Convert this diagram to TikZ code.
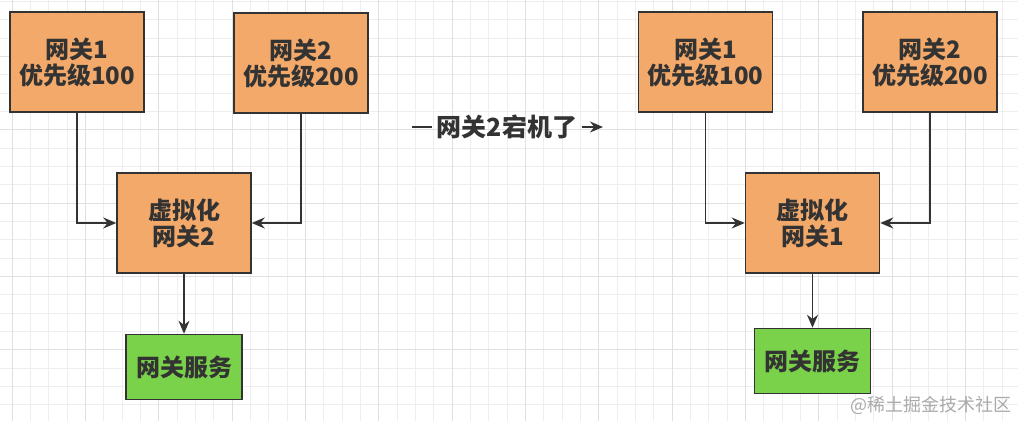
\documentclass[tikz,border=0pt]{standalone}
\usepackage{fontspec}
\usepackage{xcolor}
\usepackage{tikz}
\usetikzlibrary{positioning, arrows.meta}
\newfontfamily\cjk{Noto Sans CJK SC}
\definecolor{boxorange}{HTML}{F2A96A}
\definecolor{boxgreen}{HTML}{79D24A}
\definecolor{lineblack}{HTML}{333333}
\definecolor{gridminor}{HTML}{EEEEEE}
\definecolor{gridmajor}{HTML}{E0E0E0}
\definecolor{markgray}{HTML}{AAAAAA}
\tikzset{
  gwbox/.style={draw=lineblack, line width=0.75pt, fill=boxorange, text=lineblack,
        minimum width=67pt, minimum height=50pt, align=center,
        font={\cjk\bfseries\fontsize{12}{13}\selectfont}},
  svcbox/.style={gwbox, fill=boxgreen, minimum width=58pt, minimum height=32.5pt},
  link/.style={draw=lineblack, line width=0.8pt, -{Stealth[length=6.5pt,width=5.5pt]}}
}

\begin{document}
\begin{tikzpicture}[x=0.5pt, y=-0.5pt]
  \fill[white] (0,0) rectangle (1018,421);
  \useasboundingbox (0,0) rectangle (1018,421);
  % background grid
  \foreach \i in {0,...,54}
    \draw[gridminor, line width=0.5pt] ({12.3+\i*18.33},0) -- ({12.3+\i*18.33},421);
  \foreach \j in {0,...,22}
    \draw[gridminor, line width=0.5pt] (0,{1.67+\j*18.33}) -- (1018,{1.67+\j*18.33});
  \foreach \i in {0,4,...,52}
    \draw[gridmajor, line width=0.5pt] ({12.3+\i*18.33},0) -- ({12.3+\i*18.33},421);
  \foreach \j in {3,7,...,19}
    \draw[gridmajor, line width=0.5pt] (0,{1.67+\j*18.33}) -- (1018,{1.67+\j*18.33});

  % before
  \node[gwbox] (gwoneL) at (77,62) {网关1\\优先级100};
  \node[gwbox] (gwtwoL) at (301,63) {网关2\\优先级200};
  \node[gwbox] (virtL) at (184,223) {虚拟化\\网关2};
  \node[svcbox, below=30pt of virtL] (svcL) {网关服务};
  \draw[link] (gwoneL) |- (virtL);
  \draw[link] (gwtwoL) |- (virtL);
  \draw[link] (virtL) -- (svcL);

  % failover
  \coordinate (downS) at (412,127);
  \node[text=lineblack, inner sep=2pt, font={\cjk\bfseries\fontsize{12.5}{14}\selectfont}]
    (down) at (507,127) {网关2宕机了};
  \coordinate (downE) at (603,127);
  \draw[draw=lineblack, line width=0.8pt] (downS) -- (down);
  \draw[link] (down) -- (downE);

  % after
  \node[gwbox] (gwoneR) at (705.5,62) {网关1\\优先级100};
  \node[gwbox] (gwtwoR) at (930,62) {网关2\\优先级200};
  \node[gwbox] (virtR) at (812.5,223) {虚拟化\\网关1};
  \node[svcbox, below=27pt of virtR] (svcR) {网关服务};
  \draw[link] (gwoneR) |- (virtR);
  \draw[link] (gwtwoR) |- (virtR);
  \draw[link] (virtR) -- (svcR);

  \node[text=markgray, inner sep=0pt, font={\cjk\fontsize{9}{11}\selectfont}]
    (mark) at (931,405) {@稀土掘金技术社区};
\end{tikzpicture}
\end{document}
